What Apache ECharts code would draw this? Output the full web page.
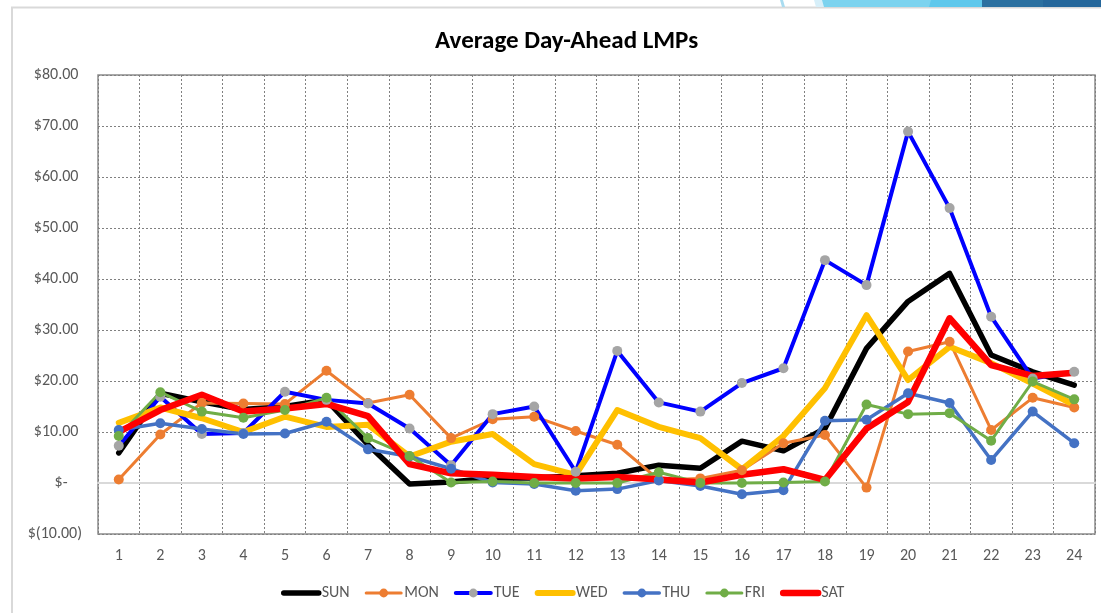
<!DOCTYPE html>
<html>
<head>
<meta charset="utf-8">
<script src="https://cdn.jsdelivr.net/npm/echarts@6/dist/echarts.min.js"></script>
<style>
html,body{margin:0;padding:0;background:#fff;}
#c{width:1101px;height:613px;}
</style>
</head>
<body>
<div id="c"></div>
<script>
const hours = ['1','2','3','4','5','6','7','8','9','10','11','12','13','14','15','16','17','18','19','20','21','22','23','24'];
const sun = [5.9, 17.6, 15.9, 14.4, 15.0, 16.3, 7.5, -0.2, 0.2, 1.0, 1.0, 1.4, 1.9, 3.5, 2.9, 8.2, 6.3, 10.7, 26.4, 35.6, 41.1, 25.1, 21.8, 19.2];
const mon = [0.7, 9.5, 15.7, 15.6, 15.5, 22.0, 15.7, 17.3, 8.8, 12.5, 13.0, 10.2, 7.5, 0.6, 0.9, 2.5, 7.8, 9.4, -0.9, 25.8, 27.7, 10.4, 16.7, 14.8];
const tue = [7.3, 16.9, 9.6, 9.8, 17.9, 16.3, 15.6, 10.7, 3.5, 13.5, 15.0, 2.2, 25.9, 15.8, 14.0, 19.6, 22.5, 43.7, 38.8, 68.9, 53.9, 32.6, 20.5, 21.8];
const wed = [11.8, 14.8, 12.7, 10.0, 13.0, 11.0, 11.4, 5.2, 8.1, 9.6, 3.7, 1.6, 14.3, 11.0, 8.8, 2.7, 9.2, 18.6, 32.9, 20.2, 26.7, 23.5, 19.5, 15.3];
const thu = [10.4, 11.7, 10.6, 9.6, 9.7, 12.0, 6.6, 5.2, 2.8, 0.1, -0.2, -1.5, -1.2, 0.5, -0.6, -2.2, -1.4, 12.2, 12.4, 17.6, 15.7, 4.5, 14.0, 7.8];
const fri = [9.2, 17.8, 14.0, 12.8, 14.3, 16.7, 8.8, 5.3, 0.1, 0.3, 0.0, 0.0, 0.0, 2.1, 0.0, 0.0, 0.1, 0.3, 15.4, 13.5, 13.7, 8.3, 19.9, 16.4];
const sat = [10.0, 14.3, 17.3, 14.0, 14.6, 15.5, 13.1, 3.7, 1.9, 1.6, 1.2, 0.9, 1.2, 0.7, 0.1, 1.6, 2.7, 0.6, 10.7, 15.9, 32.3, 23.1, 21.0, 21.6];
const seriesNames = ['SUN','MON','TUE','WED','THU','FRI','SAT'];
const noMarker = {SUN: true, WED: true, SAT: true};

const FONT = 'Carlito, Lato, "Noto Sans", sans-serif';
const LABEL = '#595959';

function fmt(v){
  if (v === 0) return '$-    ';
  if (v < 0) return '$(' + Math.abs(v).toFixed(2) + ')';
  return '$' + v.toFixed(2) + ' ';
}

function lineSeries(name, data, color, width, markerColor){
  const s = {
    name: name,
    type: 'line',
    data: data,
    smooth: false,
    lineStyle: {color: color, width: width, cap: 'round', join: 'round'},
    itemStyle: {color: markerColor || color, borderWidth: 0},
    emphasis: {disabled: true},
    animation: false
  };
  if (markerColor) {
    s.symbol = 'circle';
    s.symbolSize = 10;
    s.showSymbol = true;
  } else {
    s.symbol = 'none';
    s.showSymbol = false;
  }
  return s;
}

const chart = echarts.init(document.getElementById('c'), null, {renderer: 'canvas'});
chart.setOption({
  backgroundColor: '#ffffff',
  animation: false,
  graphic: [
    {type: 'rect', silent: true, z: -10, shape: {x: 12, y: 7.5, width: 1200, height: 700}, style: {fill: 'none', stroke: '#d9d9d9', lineWidth: 2}},
    {type: 'polygon', silent: true, z: -5, shape: {points: [[780,0],[783,0],[785,7],[782,7]]}, style: {fill: '#a9dcf0'}},
    {type: 'polygon', silent: true, z: -5, shape: {points: [[814,0],[1101,0],[1101,7],[816,7]]}, style: {fill: '#d7eff9'}},
    {type: 'polygon', silent: true, z: -4, shape: {points: [[822,0],[1101,0],[1101,7],[824,7]]}, style: {fill: '#7cd3ef'}},
    {type: 'polygon', silent: true, z: -3, shape: {points: [[931,0],[1101,0],[1101,7],[929,7]]}, style: {fill: '#5ec8ec'}},
    {type: 'polygon', silent: true, z: -2, shape: {points: [[982,0],[1101,0],[1101,7],[982,7]]}, style: {fill: '#2b70a0'}},
    {type: 'polygon', silent: true, z: -1, shape: {points: [[1043,0],[1101,0],[1101,7],[1043,7]]}, style: {fill: '#25679b'}}
  ],
  title: {
    text: 'Average Day-Ahead LMPs',
    left: 430,
    top: 24,
    textStyle: {fontFamily: FONT, fontWeight: 'bold', fontSize: 25, color: '#000000'}
  },
  legend: {
    data: seriesNames.map(n => noMarker[n] ? {name: n, itemStyle: {opacity: 0}} : {name: n}),
    left: 276,
    top: 580,
    itemWidth: 35,
    itemHeight: 11,
    itemGap: 15,
    lineStyle: {width: 'inherit'},
    textStyle: {fontFamily: FONT, fontSize: 16, color: LABEL, padding: [0,0,0,-2]}
  },
  grid: {
    left: 98, right: 6, top: 75, bottom: 79,
    show: true, borderColor: '#8c8c8c', borderWidth: 1.5,
    containLabel: false
  },
  xAxis: [
    {
      type: 'category',
      data: hours,
      boundaryGap: true,
      axisLine: {show: false, onZero: false},
      axisTick: {show: false},
      axisLabel: {fontFamily: FONT, fontSize: 16, color: LABEL, margin: 14},
      splitLine: {show: true, lineStyle: {color: '#808080', width: 1, type: [2, 2]}}
    },
    {
      type: 'category',
      data: hours,
      position: 'bottom',
      boundaryGap: true,
      axisLine: {show: true, onZero: true, lineStyle: {color: '#d9d9d9', width: 2}},
      axisTick: {show: false},
      axisLabel: {show: false},
      splitLine: {show: false}
    }
  ],
  yAxis: {
    type: 'value',
    min: -10,
    max: 80,
    interval: 10,
    axisLine: {show: false},
    axisTick: {show: false},
    axisLabel: {fontFamily: FONT, fontSize: 16, color: LABEL, margin: 16, formatter: fmt},
    splitLine: {show: true, lineStyle: {color: '#808080', width: 1, type: [2, 2]}}
  },
  series: [
    lineSeries('SUN', sun, '#000000', 5.5),
    lineSeries('MON', mon, '#ED7D31', 3, '#ED7D31'),
    lineSeries('TUE', tue, '#0000FF', 4, '#A5A5A5'),
    lineSeries('WED', wed, '#FFC000', 6),
    lineSeries('THU', thu, '#4472C4', 3.5, '#4472C4'),
    lineSeries('FRI', fri, '#70AD47', 3, '#70AD47'),
    lineSeries('SAT', sat, '#FF0000', 6.5)
  ]
});
</script>
</body>
</html>
